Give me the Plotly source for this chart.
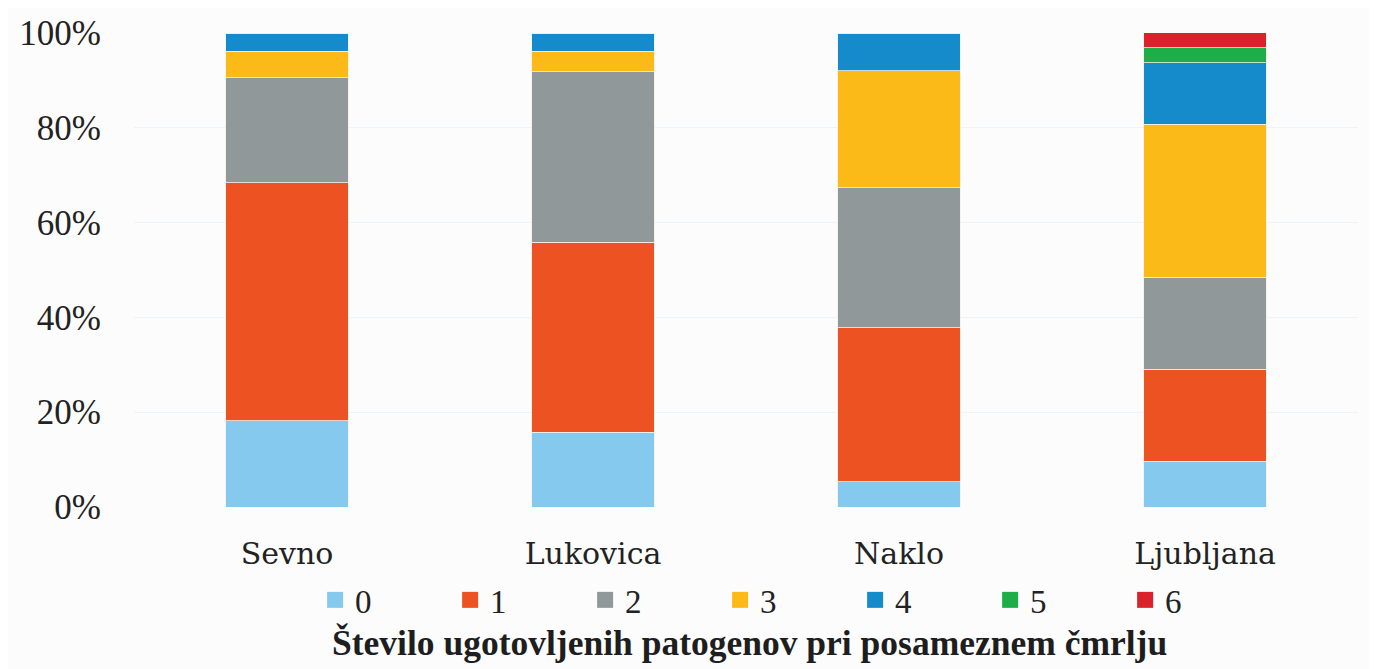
"""Delež čmrljev glede na število ugotovljenih patogenov (100 % stolpci)."""

import plotly.graph_objects as go

lokacije = ["Sevno", "Lukovica", "Naklo", "Ljubljana"]
stevilo_patogenov = ["0", "1", "2", "3", "4", "5", "6"]

# deleži (%) po lokacijah za vsako število patogenov
p0 = [18.2, 15.8, 5.3, 9.7]
p1 = [50.2, 40.1, 32.5, 19.4]
p2 = [22.2, 35.9, 29.6, 19.4]
p3 = [5.6, 4.4, 24.6, 32.3]
p4 = [3.8, 3.8, 8.0, 12.9]
p5 = [0, 0, 0, 3.2]
p6 = [0, 0, 0, 3.2]

y_ticks = [0, 20, 40, 60, 80, 100]
y_tick_labels = ["0%", "20%", "40%", "60%", "80%", "100%"]

barve = ["#85C9EE", "#EC5222", "#919899", "#FBBA17", "#168BCB", "#1DAE48", "#D9222A"]
serie = [p0, p1, p2, p3, p4, p5, p6]

SERIF = "Liberation Serif"
WIDE = "DejaVu Serif"

fig = go.Figure()

for ime, vrednosti, barva in zip(stevilo_patogenov, serie, barve):
    fig.add_trace(
        go.Bar(
            x=lokacije,
            y=vrednosti,
            name=ime,
            marker=dict(color=barva, line=dict(color="rgba(240,240,230,0.8)", width=1)),
            showlegend=False,
            hovertemplate="%{x}: %{y:.1f}%<extra>" + ime + "</extra>",
        )
    )
    # legenda z večjimi kvadratki
    fig.add_trace(
        go.Scatter(
            x=[None],
            y=[None],
            mode="markers",
            name=ime,
            marker=dict(symbol="square", size=18, color=barva),
            showlegend=True,
        )
    )

fig.update_layout(
    width=1377,
    height=669,
    barmode="stack",
    bargap=0.6,
    plot_bgcolor="#fcfcfc",
    paper_bgcolor="#fcfcfc",
    font=dict(family=SERIF, size=34, color="#222222"),
    margin=dict(l=126, r=27, t=25, b=170, autoexpand=False),
    legend=dict(
        orientation="h",
        traceorder="normal",
        x=0.534,
        xanchor="center",
        y=-0.196,
        yanchor="middle",
        font=dict(family=SERIF, size=33),
        entrywidth=90,
        entrywidthmode="pixels",
        itemwidth=30,
        itemsizing="trace",
        bgcolor="rgba(0,0,0,0)",
    ),
    annotations=[
        dict(
            text="<b>Število ugotovljenih patogenov pri posameznem čmrlju</b>",
            xref="paper",
            yref="paper",
            x=0.503,
            y=-0.287,
            xanchor="center",
            yanchor="middle",
            showarrow=False,
            font=dict(family=SERIF, size=35.5, color="#1e1e1e"),
        )
    ],
)

fig.update_xaxes(
    showgrid=False,
    showline=False,
    zeroline=False,
    tickfont=dict(family=WIDE, size=30),
    ticklabelstandoff=26,
)

fig.update_yaxes(
    range=[0, 100],
    tickvals=y_ticks,
    ticktext=y_tick_labels,
    showgrid=True,
    gridcolor="#eef3f7",
    gridwidth=1,
    zeroline=False,
    showline=False,
    tickfont=dict(family=SERIF, size=35),
    ticklabelstandoff=32,
)

fig.write_html("out.html")
